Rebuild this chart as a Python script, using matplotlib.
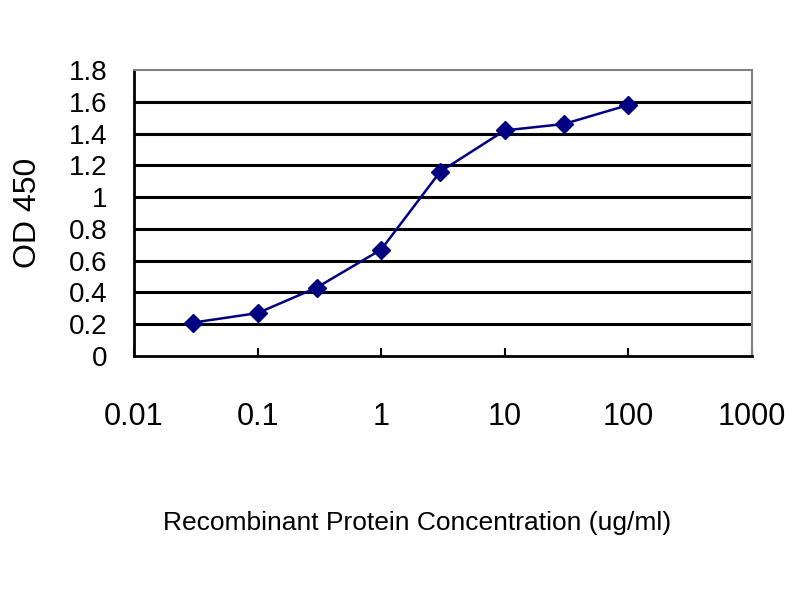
import numpy as np
import matplotlib.pyplot as plt

plt.rcParams['font.family'] = ['Liberation Sans', 'DejaVu Sans']

# concentration (ug/ml) and OD 450 readings
conc = [0.03, 0.1, 0.3, 1, 3, 10, 30, 100]
od450 = [0.21, 0.27, 0.43, 0.67, 1.16, 1.42, 1.46, 1.58]

x_ticks = [0.01, 0.1, 1, 10, 100, 1000]
x_tick_labels = ['0.01', '0.1', '1', '10', '100', '1000']
y_ticks = [0, 0.2, 0.4, 0.6, 0.8, 1, 1.2, 1.4, 1.6, 1.8]
y_tick_labels = ['0', '0.2', '0.4', '0.6', '0.8', '1', '1.2', '1.4', '1.6', '1.8']

fig = plt.figure(figsize=(8, 6), dpi=100)
ax = fig.add_axes([0.1675, 0.4067, 0.7725, 0.4766])

# Excel style horizontal gridlines
for yv in y_ticks[1:-1]:
    ax.axhline(yv, color='black', linewidth=2.2, zorder=1)

ax.plot(conc, od450, color='#000080', linewidth=1.8, marker='D',
        markersize=9, markeredgecolor='#000080', zorder=3)

ax.set_xscale('log')
ax.set_xlim(0.01, 1000)
ax.set_ylim(0, 1.8)
ax.set_xticks(x_ticks)
ax.set_xticklabels(x_tick_labels)
ax.minorticks_off()
ax.set_yticks(y_ticks)
ax.set_yticklabels(y_tick_labels)

ax.tick_params(axis='x', direction='in', length=6, width=1.5, pad=33,
               labelsize=22, colors='black')
ax.tick_params(axis='y', direction='out', length=0, pad=19,
               labelsize=20, colors='black')

for side in ['top', 'right']:
    ax.spines[side].set_color('#808080')
    ax.spines[side].set_linewidth(1.5)
for side in ['left', 'bottom']:
    ax.spines[side].set_color('black')
    ax.spines[side].set_linewidth(2)

fig.text(28 / 800, 1 - 213 / 600, 'OD 450', rotation=90,
         ha='center', va='center', fontsize=23)
fig.text(0.521, 0.128, 'Recombinant Protein Concentration (ug/ml)',
         ha='center', va='center', fontsize=19)

fig.savefig('out.png', dpi=100)
